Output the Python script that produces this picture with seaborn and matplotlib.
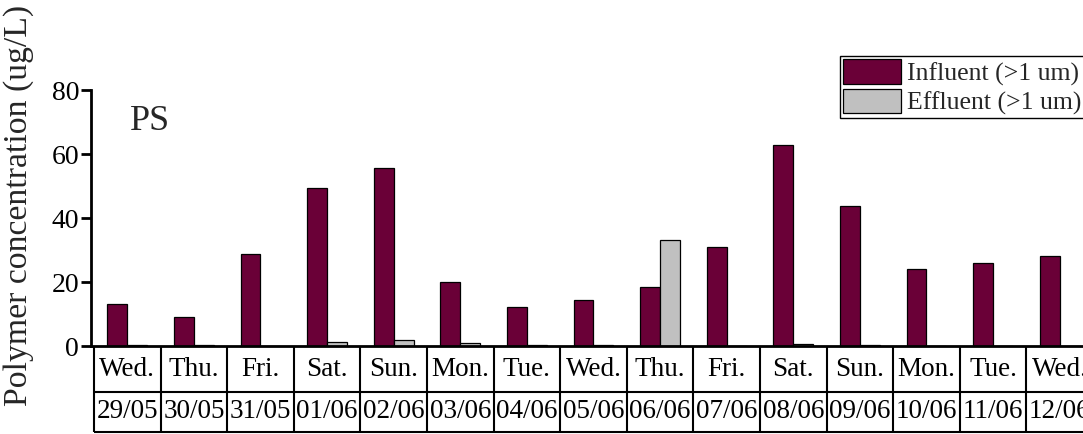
import matplotlib
matplotlib.use("Agg")
import matplotlib.pyplot as plt
from matplotlib.patches import Patch
import seaborn as sns
import pandas as pd

# Sampling days and dates
days = ["Wed.", "Thu.", "Fri.", "Sat.", "Sun.", "Mon.", "Tue.", "Wed.",
        "Thu.", "Fri.", "Sat.", "Sun.", "Mon.", "Tue.", "Wed."]
dates = ["29/05", "30/05", "31/05", "01/06", "02/06", "03/06", "04/06", "05/06",
         "06/06", "07/06", "08/06", "09/06", "10/06", "11/06", "12/06"]

# PS concentrations (ug/L)
influent = [13.1, 9.1, 28.8, 49.4, 55.6, 20.0, 12.2, 14.4,
            18.3, 31.0, 62.7, 43.8, 24.0, 25.9, 28.1]
effluent = [0.4, 0.2, 0.0, 1.1, 1.8, 0.9, 0.2, 0.2,
            33.2, 0.1, 0.7, 0.3, 0.0, 0.1, 0.0]

series_names = ["Influent (>1 um)", "Effluent (>1 um)"]
series_colors = ["#6A0037", "#C0C0C0"]

df = pd.DataFrame({
    "date": dates * 2,
    "value": influent + effluent,
    "series": [series_names[0]] * len(dates) + [series_names[1]] * len(dates),
})

sns.set_theme(style="white")
plt.rcParams["font.family"] = ["Liberation Serif", "DejaVu Serif"]

W, H = 1083, 434
fig = plt.figure(figsize=(W / 100, H / 100), dpi=100)
fig.patch.set_facecolor("white")

ax_left, ax_right, ax_top, ax_bottom = 91, 1093, 90, 346
ax = fig.add_axes([ax_left / W, (H - ax_bottom) / H,
                   (ax_right - ax_left) / W, (ax_bottom - ax_top) / H])

sns.barplot(data=df, x="date", y="value", hue="series", order=dates,
            hue_order=series_names, palette=series_colors, width=0.6,
            saturation=1, errorbar=None, edgecolor="black", linewidth=0.9,
            legend=False, ax=ax)

ax.set_xlim(-0.545, len(dates) - 0.5)
ax.set_ylim(0, 80)
ax.set_yticks([0, 20, 40, 60, 80])
ax.set_xticks([])
ax.set_xlabel("")
ax.set_ylabel("")
ax.tick_params(axis="y", direction="out", length=7, width=2,
               labelsize=20, pad=1.5, left=True, colors="black")
for s in ["top", "right"]:
    ax.spines[s].set_visible(False)
for s in ["left", "bottom"]:
    ax.spines[s].set_color("black")
    ax.spines[s].set_linewidth(2)

# Table of day names and dates under the x axis
tr = ax.get_xaxis_transform()
row_mid = -(392 - ax_bottom) / (ax_bottom - ax_top)
row_end = -(432 - ax_bottom) / (ax_bottom - ax_top)
edges = [i - 0.5 for i in range(len(dates) + 1)]
ax.vlines(edges, row_end, 0, transform=tr, colors="black", lw=1.5, clip_on=False)
ax.hlines([row_mid, row_end], -0.5, len(dates) - 0.5, transform=tr,
          colors="black", lw=1.5, clip_on=False)
for i, (d, dt) in enumerate(zip(days, dates)):
    ax.text(i, row_mid / 2, d, transform=tr, ha="center", va="center",
            fontsize=19.5, color="black", clip_on=False)
    ax.text(i, (row_mid + row_end) / 2, dt, transform=tr, ha="center",
            va="center", fontsize=19.5, color="black", clip_on=False)

ax.text((130 - ax_left) / (ax_right - ax_left),
        (ax_bottom - 130) / (ax_bottom - ax_top), "PS",
        transform=ax.transAxes, fontsize=26, ha="left", va="baseline")

fig.text(19 / W, (H - 406) / H, "Polymer concentration (ug/L)",
         rotation=90, ha="center", va="bottom", fontsize=24.3)

handles = [Patch(facecolor=c, edgecolor="black", linewidth=0.9)
           for c in series_colors]
leg = fig.legend(handles, series_names, loc="upper left",
                 bbox_to_anchor=(840 / W, 1 - 56 / H), borderaxespad=0,
                 fontsize=18.5, handlelength=2.25, handleheight=1.1,
                 handletextpad=0.25, labelspacing=0.12, borderpad=0.12,
                 fancybox=False, framealpha=1, edgecolor="black")
leg.get_frame().set_linewidth(1)

fig.savefig("out.png", dpi=100, facecolor="white")
